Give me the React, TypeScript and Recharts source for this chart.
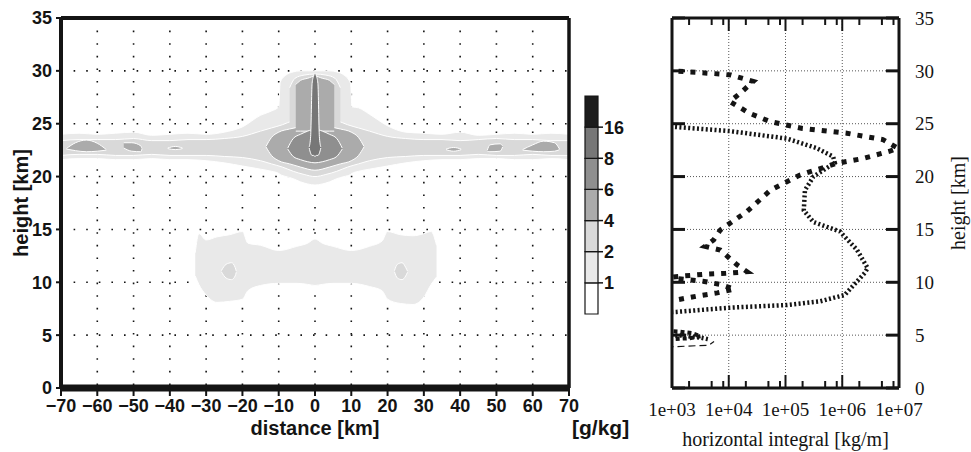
import {
  ComposedChart,
  BarChart,
  Area,
  Bar,
  Scatter,
  XAxis,
  YAxis,
  CartesianGrid,
  ReferenceLine,
  Label,
} from "recharts";

// [distance km, lower edge km, upper edge km] for each filled contour piece
type Slice = [number, number, number];
// [horizontal integral kg/m, height km]
type ProfilePoint = [number, number];

const distanceTicks = [-70, -60, -50, -40, -30, -20, -10, 0, 10, 20, 30, 40, 50, 60, 70];
const heightTicks = [0, 5, 10, 15, 20, 25, 30, 35];

// colour classes, lowest first: <1, 1-2, 2-4, 4-6, 6-8, 8-16, >16 g/kg
const classBounds = [1, 2, 4, 6, 8, 16];
const classColors = ["#ffffff", "#e9e9e9", "#d9d9d9", "#ababab", "#8f8f8f", "#777777", "#1c1c1c"];

// stratospheric layer + plume, 1-2 g/kg outline
const strato1: Slice[] = [
  [-70, 21.6, 24.0], [-65, 21.7, 24.1], [-60, 21.7, 24.0], [-55, 21.6, 24.1], [-50, 21.6, 24.2],
  [-45, 21.7, 23.9], [-40, 21.6, 24.0], [-35, 21.6, 24.1], [-30, 21.5, 24.0], [-25, 21.3, 24.2],
  [-20, 21.0, 24.7], [-15, 20.7, 25.8], [-12, 20.5, 26.2], [-10, 20.3, 26.6], [-9.6, 20.2, 28.9],
  [-8, 20.0, 29.6], [-6, 19.8, 29.9], [-4, 19.5, 30.0], [-2, 19.3, 30.0], [0, 19.2, 30.0],
  [2, 19.3, 30.0], [4, 19.5, 30.0], [6, 19.8, 29.9], [8, 20.0, 29.6], [9.8, 20.2, 28.8],
  [10.2, 20.3, 26.6], [12, 20.5, 26.5], [15, 20.7, 25.9], [20, 21.0, 24.8], [25, 21.3, 24.2],
  [30, 21.5, 24.1], [35, 21.6, 24.0], [40, 21.6, 24.2], [45, 21.7, 23.9], [50, 21.7, 24.0],
  [55, 21.6, 24.1], [60, 21.6, 24.0], [65, 21.7, 24.1], [70, 21.6, 24.0],
];

// 2-4 g/kg core of the layer and of the plume
const strato2: Slice[] = [
  [-70, 22.0, 23.4], [-65, 22.1, 23.5], [-60, 22.1, 23.5], [-55, 22.0, 23.5], [-50, 22.0, 23.6],
  [-45, 22.1, 23.4], [-40, 22.0, 23.4], [-35, 22.0, 23.5], [-30, 22.0, 23.5], [-25, 21.9, 23.6],
  [-20, 21.8, 23.8], [-15, 21.5, 24.3], [-12, 21.2, 24.6], [-9, 20.9, 24.9], [-6, 20.5, 25.3],
  [-3, 20.2, 25.5], [0, 20.0, 25.6], [3, 20.2, 25.5], [6, 20.5, 25.3], [9, 20.9, 24.9],
  [12, 21.2, 24.6], [15, 21.5, 24.3], [20, 21.8, 23.8], [25, 21.9, 23.6], [30, 22.0, 23.5],
  [35, 22.0, 23.5], [40, 22.0, 23.4], [45, 22.1, 23.5], [50, 22.0, 23.6], [55, 22.0, 23.5],
  [60, 22.1, 23.5], [65, 22.0, 23.4], [70, 22.0, 23.4],
];
const column2: Slice[] = [
  [-7, 24.0, 28.4], [-5.5, 24.0, 29.3], [-3, 24.0, 29.6], [0, 24.0, 29.7], [3, 24.0, 29.6],
  [5.5, 24.0, 29.3], [7, 24.0, 28.4],
];

// 4-6 g/kg patches along the layer
const patchW1: Slice[] = [[-68.5, 22.6, 22.65], [-66, 22.45, 23.2], [-63, 22.35, 23.45], [-60, 22.4, 23.15], [-57.5, 22.5, 22.55]];
const patchW2: Slice[] = [[-52.7, 22.7, 23.2], [-50.5, 22.4, 23.2], [-48, 22.35, 22.9], [-47.7, 22.6, 22.65]];
const patchW3: Slice[] = [[-40.6, 22.65, 22.7], [-38.5, 22.55, 22.85], [-36.5, 22.65, 22.7]];
const patchE1: Slice[] = [[36.1, 22.55, 22.6], [38.2, 22.4, 22.75], [40.3, 22.55, 22.6]];
const patchE2: Slice[] = [[47.5, 22.4, 22.5], [48.2, 22.35, 23.0], [51.0, 22.4, 23.1], [51.7, 22.8, 22.9]];
const patchE3: Slice[] = [[57.2, 22.5, 22.55], [60, 22.4, 23.0], [63, 22.35, 23.35], [66, 22.4, 23.2], [67.4, 22.55, 22.6]];
const plume3: Slice[] = [
  [-13.5, 22.8, 22.85], [-12, 22.0, 23.7], [-10, 21.5, 24.2], [-7, 21.2, 24.5], [-4, 20.9, 24.7],
  [0, 20.6, 24.8], [4, 20.9, 24.7], [7, 21.2, 24.5], [10, 21.5, 24.2], [12, 22.0, 23.7],
  [13.5, 22.8, 22.85],
];
const column3: Slice[] = [
  [-5.3, 24.3, 28.7], [-4, 24.3, 29.1], [-2, 24.3, 29.3], [0, 24.3, 29.5], [2, 24.3, 29.3],
  [4, 24.3, 29.1], [5.3, 24.3, 28.7],
];

// 6-8 and 8-16 g/kg at the plume centre
const plume4: Slice[] = [
  [-7.5, 22.6, 22.7], [-6, 21.9, 23.6], [-4, 21.6, 24.0], [-2, 21.4, 24.3], [0, 21.3, 24.5],
  [2, 21.4, 24.3], [4, 21.6, 24.0], [6, 21.9, 23.6], [7.5, 22.6, 22.7],
];
const plume5: Slice[] = [
  [-1.6, 22.7, 22.8], [-1.2, 22.2, 23.8], [-0.8, 22.0, 28.8], [-0.4, 22.0, 29.5], [0, 21.9, 29.8],
  [0.4, 22.0, 29.5], [0.8, 22.0, 28.8], [1.2, 22.2, 23.8], [1.6, 22.7, 22.8],
];

// tropospheric cloud, 1-2 g/kg and two 2-4 g/kg cells
const tropo1: Slice[] = [
  [-33, 10.6, 12.8], [-32, 9.8, 14.6], [-30, 8.8, 14.0], [-27, 8.1, 14.3], [-23.5, 8.2, 14.5],
  [-20, 8.4, 14.8], [-18.5, 9.2, 13.7], [-15, 9.7, 13.5], [-10, 9.9, 13.0], [-5, 9.9, 13.4],
  [-2, 9.8, 13.7], [0, 9.7, 14.1], [2, 9.8, 13.7], [5, 9.9, 13.4], [10, 9.9, 13.0],
  [15, 9.6, 13.4], [18.5, 9.2, 13.9], [20, 8.4, 14.8], [23.5, 8.0, 14.5], [27, 7.9, 14.4],
  [30, 8.6, 14.6], [32, 9.8, 14.8], [33.5, 10.5, 13.5],
];
const tropoW2: Slice[] = [[-25.8, 11.0, 11.1], [-24.5, 10.4, 11.7], [-23, 10.25, 11.85], [-22, 10.6, 11.4], [-21.7, 10.95, 11.05]];
const tropoE2: Slice[] = [[21.9, 11.0, 11.1], [22.7, 10.4, 11.7], [24, 10.25, 11.85], [25, 10.6, 11.4], [25.5, 10.95, 11.05]];

// horizontally integrated profiles
const integralTicks = [1e3, 2e3, 5e3, 8e3, 1e4, 2e4, 5e4, 8e4, 1e5, 2e5, 5e5, 8e5, 1e6, 2e6, 5e6, 8e6, 1e7];
const integralGrid = [1e4, 1e5, 1e6];
const profileFine: ProfilePoint[] = [
  [8e2, 24.9], [1.1e3, 24.7], [1.05e4, 24.3], [1.05e5, 23.6], [3.5e5, 22.7], [6.9e5, 21.9],
  [7.4e5, 21.3], [3.1e5, 20.0], [2.2e5, 18.7], [2.1e5, 16.8], [3.1e5, 15.7], [9.1e5, 14.8],
  [1.8e6, 13.1], [2.8e6, 11.35], [2.5e6, 10.9], [1.1e6, 8.8], [4.1e5, 8.2], [1.05e5, 7.85],
  [1.05e4, 7.6], [1.2e3, 7.2], [8e2, 7.15],
];
const profileFineLow: ProfilePoint[] = [[8e2, 5.0], [1.6e3, 4.95], [3.3e3, 4.75], [4.5e3, 4.6]];
const profileSquare: ProfilePoint[] = [
  [8e2, 30.0], [1.1e3, 30.0], [7.1e3, 29.7], [1.1e4, 29.6], [2.7e4, 29.0], [1.6e4, 27.9],
  [1.05e4, 27.1], [2.3e4, 26.0], [5.4e4, 25.2], [2.0e5, 24.55], [1.2e6, 24.1], [5.2e6, 23.5],
  [9.5e6, 22.7], [6.9e6, 22.4], [2.3e6, 21.7], [7.9e5, 21.25], [1.8e5, 20.15], [5.4e4, 18.7],
  [2.1e4, 16.7], [7.1e3, 14.95], [5.4e3, 14.0], [3.8e3, 13.4], [7.1e3, 13.05], [1.4e4, 11.65],
  [2.1e4, 11.0], [8.9e3, 10.85], [3.5e3, 10.75], [1.6e3, 10.6], [8e2, 10.45], [3.5e3, 10.1],
  [7e3, 9.8], [1.25e4, 9.35], [6.3e3, 9.0], [2.8e3, 8.7], [1.25e3, 8.35], [8e2, 8.3],
];
const profileSquareLow: ProfilePoint[] = [[8e2, 5.4], [1.3e3, 5.35], [2.2e3, 5.2], [3.2e3, 4.9], [2.0e3, 4.7], [8e2, 4.6]];
const profileDashed: ProfilePoint[] = [[8e2, 3.9], [1.0e3, 3.9], [4.5e3, 4.05], [5.5e3, 4.4]];

const contourLayers = [
  { key: "strato1", rows: strato1, level: 1 },
  { key: "tropo1", rows: tropo1, level: 1 },
  { key: "strato2", rows: strato2, level: 2 },
  { key: "column2", rows: column2, level: 2 },
  { key: "tropoW2", rows: tropoW2, level: 2 },
  { key: "tropoE2", rows: tropoE2, level: 2 },
  { key: "patchW1", rows: patchW1, level: 3 },
  { key: "patchW2", rows: patchW2, level: 3 },
  { key: "patchW3", rows: patchW3, level: 3 },
  { key: "patchE1", rows: patchE1, level: 3 },
  { key: "patchE2", rows: patchE2, level: 3 },
  { key: "patchE3", rows: patchE3, level: 3 },
  { key: "plume3", rows: plume3, level: 3 },
  { key: "column3", rows: column3, level: 3 },
  { key: "plume4", rows: plume4, level: 4 },
  { key: "plume5", rows: plume5, level: 5 },
];

// one row per distance, each piece stored as a [low, high] range
const contourTable = (() => {
  const rows = new Map<number, Record<string, any>>();
  contourLayers.forEach(({ key, rows: slices }) => {
    slices.forEach(([d, lo, hi]) => {
      const row = rows.get(d) ?? { d };
      row[key] = [lo, hi];
      rows.set(d, row);
    });
  });
  return [...rows.values()].sort((a, b) => a.d - b.d);
})();

const colorbarRow = [
  classColors.reduce<Record<string, any>>((row, _c, i) => ({ ...row, [`c${i}`]: 1 }), { name: "" }),
];

const toPoints = (pts: ProfilePoint[]) => pts.map(([v, h]) => ({ v, h }));

const profileSeries = [
  { name: "fine", data: profileFine, width: 4.5, dash: "2 2.4" },
  { name: "fineLow", data: profileFineLow, width: 4.5, dash: "2 2.4" },
  { name: "square", data: profileSquare, width: 5, dash: "5 7" },
  { name: "squareLow", data: profileSquareLow, width: 4, dash: "4 3" },
  { name: "dashed", data: profileDashed, width: 1.2, dash: "7 4" },
];

const INK = "#141414";
const sansBold = { fontFamily: "'Liberation Sans', Arial, sans-serif", fontWeight: 700, fill: INK };
const serif = { fontFamily: "'Liberation Serif', 'Times New Roman', serif", fill: INK };

const minus = (v: number) => (v < 0 ? `\u2212${-v}` : `${v}`);
const isDecade = (v: number) => Math.abs(Math.log10(v) - Math.round(Math.log10(v))) < 1e-6;
const expLabel = (v: number) => `1e+${String(Math.round(Math.log10(v))).padStart(2, "0")}`;

const BottomTick = ({ x, y, payload }: any) => {
  const major = isDecade(payload.value);
  return (
    <g>
      <line x1={x} x2={x} y1={y} y2={y - (major ? 13 : 7)} stroke={INK} strokeWidth={2} />
      {major && (
        <text x={x} y={y + 28} textAnchor="middle" fontSize={19} {...serif}>
          {expLabel(payload.value)}
        </text>
      )}
    </g>
  );
};

const TopTick = ({ x, y, payload }: any) => {
  const major = isDecade(payload.value);
  return <line x1={x} x2={x} y1={y} y2={y + (major ? 13 : 7)} stroke={INK} strokeWidth={2} />;
};

const LeftTick = ({ x, y }: any) => (
  <line x1={x} x2={x + 13} y1={y} y2={y} stroke={INK} strokeWidth={3} />
);

const RightTick = ({ x, y, payload }: any) => (
  <g>
    <line x1={x} x2={x - 13} y1={y} y2={y} stroke={INK} strokeWidth={3} />
    <text x={x + 16} y={y} dy="0.35em" textAnchor="start" fontSize={19} {...serif}>
      {payload.value}
    </text>
  </g>
);

const ContourPanel = () => (
  <ComposedChart
    width={640}
    height={452}
    data={contourTable}
    margin={{ top: 18, right: 71, bottom: 0, left: 0 }}
  >
    <XAxis
      dataKey="d"
      type="number"
      domain={[-70, 70]}
      ticks={distanceTicks}
      interval={0}
      allowDataOverflow
      height={64}
      tickSize={8}
      tickMargin={3}
      tickFormatter={minus}
      axisLine={{ stroke: INK, strokeWidth: 7 }}
      tickLine={{ stroke: INK, strokeWidth: 2 }}
      tick={{ ...sansBold, fontSize: 18 }}
    >
      <Label value="distance [km]" position="insideBottom" offset={17} style={{ ...sansBold, fontSize: 20 }} />
      <Label
        value="[g/kg]"
        position="insideBottomRight"
        offset={17}
        dx={20}
        style={{ ...sansBold, fontSize: 21, textAnchor: "start" }}
      />
    </XAxis>
    <YAxis
      type="number"
      domain={[0, 35]}
      ticks={heightTicks}
      interval={0}
      width={61}
      tickSize={5}
      tickMargin={4}
      axisLine={{ stroke: INK, strokeWidth: 4 }}
      tickLine={{ stroke: INK, strokeWidth: 2 }}
      tick={{ ...sansBold, fontSize: 18 }}
    >
      <Label
        value="height [km]"
        angle={-90}
        position="insideLeft"
        offset={21}
        style={{ ...sansBold, fontSize: 20, textAnchor: "middle" }}
      />
    </YAxis>
    {contourLayers.map(({ key, level }) => (
      <Area
        key={key}
        dataKey={key}
        type="monotoneX"
        connectNulls
        fill={classColors[level]}
        fillOpacity={1}
        stroke="#ffffff"
        strokeWidth={1}
        dot={false}
        activeDot={false}
        isAnimationActive={false}
      />
    ))}
    <CartesianGrid stroke={INK} strokeWidth={1.6} strokeDasharray="1.6 11" />
    <ReferenceLine y={35} stroke={INK} strokeWidth={4} />
    <ReferenceLine x={70} stroke={INK} strokeWidth={3.5} />
  </ComposedChart>
);

const ColorBar = () => (
  <BarChart
    width={60}
    height={240}
    data={colorbarRow}
    barCategoryGap={0}
    margin={{ top: 10, right: 0, bottom: 12, left: 8 }}
  >
    <XAxis dataKey="name" hide />
    <YAxis
      orientation="right"
      type="number"
      domain={[0, 7]}
      ticks={[1, 2, 3, 4, 5, 6]}
      interval={0}
      width={39}
      tickSize={5}
      tickMargin={1}
      axisLine={false}
      tickLine={{ stroke: INK, strokeWidth: 1.5 }}
      tickFormatter={(v: number) => String(classBounds[v - 1])}
      tick={{ ...sansBold, fontSize: 18 }}
    />
    {classColors.map((color, i) => (
      <Bar
        key={color}
        dataKey={`c${i}`}
        stackId="scale"
        fill={color}
        stroke={INK}
        strokeWidth={1.2}
        isAnimationActive={false}
      />
    ))}
  </BarChart>
);

const IntegralPanel = () => (
  <ComposedChart width={331} height={452} margin={{ top: 17, right: 0, bottom: 0, left: 31 }}>
    <XAxis
      xAxisId="b"
      dataKey="v"
      type="number"
      scale="log"
      domain={[1e3, 1e7]}
      allowDataOverflow
      ticks={integralTicks}
      interval={0}
      height={64}
      tickSize={0}
      tickMargin={0}
      tickLine={false}
      axisLine={{ stroke: INK, strokeWidth: 3 }}
      tick={BottomTick}
    >
      <Label value="horizontal integral [kg/m]" position="insideBottom" offset={6} style={{ ...serif, fontSize: 20 }} />
    </XAxis>
    <XAxis
      xAxisId="t"
      orientation="top"
      dataKey="v"
      type="number"
      scale="log"
      domain={[1e3, 1e7]}
      allowDataOverflow
      ticks={integralTicks}
      interval={0}
      height={1}
      tickSize={0}
      tickMargin={0}
      tickLine={false}
      axisLine={{ stroke: INK, strokeWidth: 3 }}
      tick={TopTick}
    />
    <YAxis
      yAxisId="l"
      dataKey="h"
      type="number"
      domain={[0, 35]}
      allowDataOverflow
      ticks={heightTicks}
      interval={0}
      width={1}
      tickSize={0}
      tickMargin={0}
      tickLine={false}
      axisLine={{ stroke: INK, strokeWidth: 3 }}
      tick={LeftTick}
    />
    <YAxis
      yAxisId="r"
      orientation="right"
      dataKey="h"
      type="number"
      domain={[0, 35]}
      allowDataOverflow
      ticks={heightTicks}
      interval={0}
      width={72}
      tickSize={0}
      tickMargin={0}
      tickLine={false}
      axisLine={{ stroke: INK, strokeWidth: 3 }}
      tick={RightTick}
    >
      <Label
        value="height [km]"
        angle={-90}
        position="insideRight"
        offset={13}
        style={{ ...serif, fontSize: 20, textAnchor: "middle" }}
      />
    </YAxis>
    {integralGrid.map((v) => (
      <ReferenceLine key={`gx${v}`} xAxisId="b" yAxisId="l" x={v} stroke="#555" strokeWidth={1} strokeDasharray="1 2" />
    ))}
    {heightTicks.slice(1, -1).map((h) => (
      <ReferenceLine key={`gy${h}`} xAxisId="b" yAxisId="l" y={h} stroke="#555" strokeWidth={1} strokeDasharray="1 2" />
    ))}
    {profileSeries.map((s) => (
      <Scatter
        key={s.name}
        xAxisId="b"
        yAxisId="l"
        data={toPoints(s.data)}
        line={{ stroke: INK, strokeWidth: s.width, strokeDasharray: s.dash }}
        lineType="joint"
        shape={() => null}
        legendType="none"
        isAnimationActive={false}
      />
    ))}
  </ComposedChart>
);

export default function App() {
  return (
    <div style={{ position: "absolute", left: 0, top: 0, width: 971, height: 452, background: "#fff" }}>
      <div style={{ position: "absolute", left: 0, top: 0 }}>
        <ContourPanel />
      </div>
      <div style={{ position: "absolute", left: 577, top: 86 }}>
        <ColorBar />
      </div>
      <div style={{ position: "absolute", left: 640, top: 0 }}>
        <IntegralPanel />
      </div>
    </div>
  );
}
